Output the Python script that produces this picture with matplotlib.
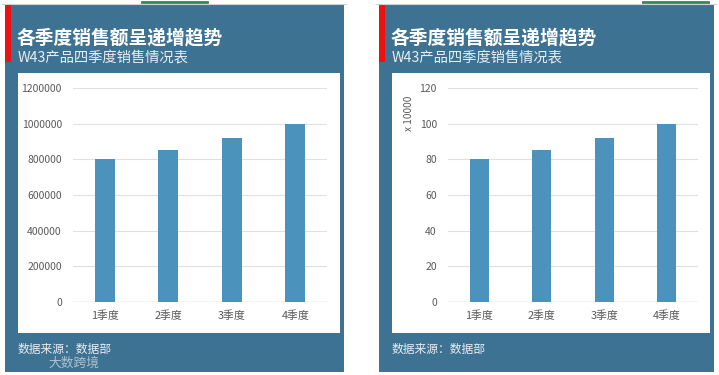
"""
Two Excel-style bar panels: quarterly sales (raw units and in units of 10000).
"""

import matplotlib
matplotlib.use("Agg")
import matplotlib.pyplot as plt
from matplotlib.patches import Rectangle

plt.rcParams["font.family"] = ["Noto Sans CJK SC", "DejaVu Sans"]

# --------------------------------------------------------------------------- #
# Data
# --------------------------------------------------------------------------- #
quarters = ["1季度", "2季度", "3季度", "4季度"]
sales = [800000, 850000, 920000, 1000000]
sales_wan = [80, 85, 92, 100]            # same values, in units of 10000
ticks_raw = [0, 200000, 400000, 600000, 800000, 1000000, 1200000]
ticks_wan = [0, 20, 40, 60, 80, 100, 120]

TITLE = "各季度销售额呈递增趋势"
SUBTITLE = "W43产品四季度销售情况表"
SOURCE = "数据来源：数据部"

# --------------------------------------------------------------------------- #
# Styling
# --------------------------------------------------------------------------- #
W, H = 719, 375
BG = "#3e7292"
BAR = "#4b93bd"
GRID = "#e0e0e0"
TICK = "#595959"

fig = plt.figure(figsize=(W / 100, H / 100), dpi=100)
fig.patch.set_facecolor("white")

# full-figure axes in pixel coordinates for the panel decoration
deco = fig.add_axes([0, 0, 1, 1])
deco.set_xlim(0, W)
deco.set_ylim(H, 0)
deco.axis("off")


def px_axes(x0, x1, y_top, y_bot):
    """Axes placed by pixel box (y measured from top)."""
    return fig.add_axes([x0 / W, (H - y_bot) / H, (x1 - x0) / W, (y_bot - y_top) / H])


def panel(x0, x1, watermark):
    deco.add_patch(Rectangle((x0, 5), x1 - x0, 367, color=BG, lw=0))
    deco.add_patch(Rectangle((x0, 5), 6, 57, color="#ee1111", lw=0))
    deco.add_patch(Rectangle((x0 + 13, 73), x1 - x0 - 17, 260, color="white", lw=0))
    deco.plot([x0 - 3, x1 + 2], [4, 4], color="#d0d0d0", lw=0.8)
    deco.text(x0 + 12, 43, TITLE, color="white", fontsize=13.5,
              fontweight="bold", va="baseline")
    deco.text(x0 + 13, 62, SUBTITLE, color="#e8eef3", fontsize=10.3, va="baseline")
    deco.text(x0 + 13, 353, SOURCE, color="#e8eef3", fontsize=8.5, va="baseline")
    if watermark:
        deco.text(x0 + 43, 367, "大数跨境", color="#c8d6e0", fontsize=9.2,
                  va="baseline", alpha=0.8)


panel(5, 344, True)
panel(379, 714, False)
deco.plot([142, 207], [1.5, 1.5], color="#2e8b57", lw=2)
deco.plot([643, 708], [1.5, 1.5], color="#2e8b57", lw=2)


def bar_chart(ax, values, ticks, top):
    x = range(len(values))
    ax.bar(x, values, width=0.31, color=BAR, zorder=3)
    ax.set_xlim(-0.5, len(values) - 0.5)
    ax.set_ylim(0, top)
    ax.set_yticks(ticks)
    ax.set_yticklabels([str(t) for t in ticks])
    ax.set_xticks(list(x))
    ax.set_xticklabels(quarters)
    ax.set_facecolor("none")
    for s in ax.spines.values():
        s.set_visible(False)
    ax.grid(axis="y", color=GRID, lw=0.8, zorder=0)
    ax.axhline(0, color="#d0d0d0", lw=1.0, zorder=2)
    ax.tick_params(axis="both", length=0, colors=TICK, labelsize=7.5)
    ax.tick_params(axis="y", pad=8)
    ax.tick_params(axis="x", pad=6, labelsize=7.8)


ax1 = px_axes(73, 327, 88, 302)
bar_chart(ax1, sales, ticks_raw, ticks_raw[-1])

ax2 = px_axes(448, 698, 88, 302)
bar_chart(ax2, sales_wan, ticks_wan, ticks_wan[-1])
ax2.set_ylabel("x 10000", color=TICK, fontsize=7.3, labelpad=4)
ax2.yaxis.set_label_coords(-0.135, 0.88)

fig.savefig("out.png", dpi=100)
